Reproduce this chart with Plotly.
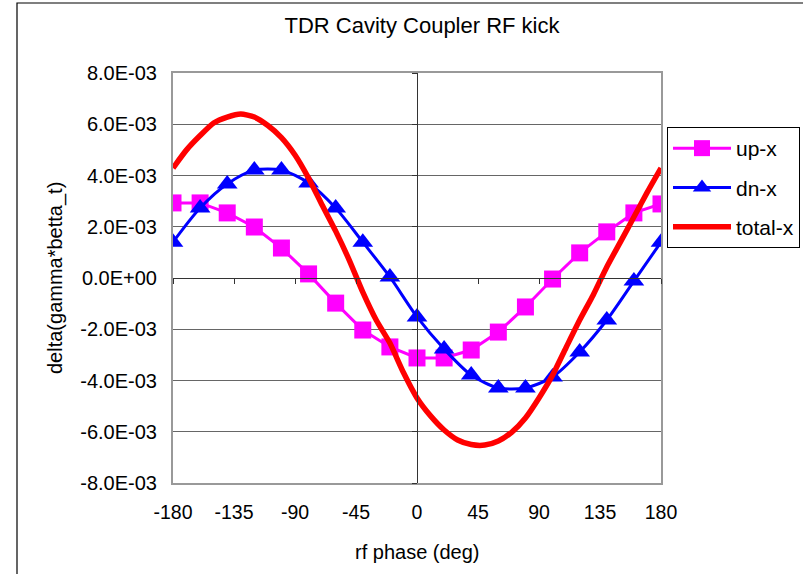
import plotly.graph_objects as go

# ---- data ----
phase = [-180, -160, -140, -120, -100, -80, -60, -40, -20, 0,
         20, 40, 60, 80, 100, 120, 140, 160, 180]
up_x = [2.93e-3, 2.93e-3, 2.54e-3, 1.99e-3, 1.17e-3, 0.16e-3, -0.98e-3, -2.03e-3, -2.69e-3, -3.12e-3,
        -3.12e-3, -2.81e-3, -2.11e-3, -1.13e-3, -0.04e-3, 0.98e-3, 1.80e-3, 2.54e-3, 2.89e-3]
dn_x = [1.40e-3, 2.73e-3, 3.67e-3, 4.21e-3, 4.21e-3, 3.71e-3, 2.73e-3, 1.40e-3, 0.04e-3, -1.52e-3,
        -2.77e-3, -3.79e-3, -4.29e-3, -4.29e-3, -3.86e-3, -2.89e-3, -1.64e-3, -0.12e-3, 1.40e-3]
phase_fine = list(range(-180, 181, 10))
total_x = [4.29e-3, 5.00e-3, 5.56e-3, 6.05e-3, 6.28e-3, 6.40e-3, 6.28e-3, 5.95e-3, 5.48e-3, 4.80e-3,
           3.90e-3, 2.85e-3, 1.83e-3, 0.70e-3, -0.55e-3, -1.65e-3, -2.54e-3, -3.69e-3, -4.68e-3,
           -5.38e-3, -5.93e-3, -6.32e-3, -6.50e-3, -6.52e-3, -6.36e-3, -6.01e-3, -5.46e-3, -4.68e-3,
           -3.79e-3, -2.71e-3, -1.64e-3, -0.66e-3, 0.43e-3, 1.40e-3, 2.38e-3, 3.36e-3, 4.29e-3]

x_ticks = [-180, -135, -90, -45, 0, 45, 90, 135, 180]
y_ticks = [-8e-3, -6e-3, -4e-3, -2e-3, 0.0, 2e-3, 4e-3, 6e-3, 8e-3]
y_tick_text = ["-8.0E-03", "-6.0E-03", "-4.0E-03", "-2.0E-03", "0.0E+00",
               "2.0E-03", "4.0E-03", "6.0E-03", "8.0E-03"]

title_text = "TDR Cavity Coupler RF kick"
x_title = "rf phase (deg)"
y_title = "delta(gamma*betta_t)"

FONT = "Arial, Liberation Sans, sans-serif"

fig = go.Figure()
fig.add_trace(go.Scatter(x=phase, y=up_x, name="up-x", mode="lines+markers", legendgroup="a",
                         line=dict(color="#FF00FF", width=3),
                         marker=dict(symbol="square", size=17, color="#FF00FF")))
fig.add_trace(go.Scatter(x=phase, y=dn_x, name="dn-x", mode="lines+markers", legendgroup="b",
                         line=dict(color="#0000FF", width=3, shape="spline", smoothing=0.8),
                         marker=dict(symbol="triangle-up", size=18, color="#0000FF")))
fig.add_trace(go.Scatter(x=phase_fine, y=total_x, name="total-x", mode="lines", legendgroup="c",
                         line=dict(color="#FF0000", width=5.5, shape="spline", smoothing=0.6)))
# invisible trace to carry the crossing (zero) axes
fig.add_trace(go.Scatter(x=[0], y=[0], xaxis="x2", yaxis="y2", mode="markers",
                         marker=dict(opacity=0), showlegend=False, hoverinfo="skip"))

L, R, T, B = 173, 661, 73, 483
W, H = 803, 574

fig.update_layout(
    width=W, height=H,
    margin=dict(l=L, r=W - R, t=T, b=H - B, pad=0, autoexpand=False),
    paper_bgcolor="white", plot_bgcolor="white",
    font=dict(family=FONT, size=19, color="black"),
    title=dict(text=title_text, x=422 / W, xanchor="center", y=1 - 25 / H, yanchor="middle",
               font=dict(family=FONT, size=22, color="black")),
    xaxis=dict(range=[-180, 180], tickvals=x_ticks, ticktext=[str(v) for v in x_ticks],
               showgrid=False, zeroline=False, showline=True, linecolor="#999999", linewidth=2,
               mirror=True, ticks="", ticklabelstandoff=11,
               tickfont=dict(family=FONT, size=19.5, color="black")),
    yaxis=dict(range=[-8e-3, 8e-3], tickvals=y_ticks, ticktext=y_tick_text,
               showgrid=True, gridcolor="#666666", gridwidth=1,
               zeroline=False, showline=True, linecolor="#999999", linewidth=2,
               mirror=True, ticks="", ticklabelstandoff=10,
               tickfont=dict(family=FONT, size=20, color="black")),
    xaxis2=dict(range=[-180, 180], overlaying="x", anchor="free", position=0.5,
                tickvals=x_ticks, showticklabels=False, ticks="outside", ticklen=5,
                tickcolor="#333333", showline=True, linecolor="#333333", linewidth=1,
                showgrid=False, zeroline=False),
    yaxis2=dict(range=[-8e-3, 8e-3], overlaying="y", anchor="free", position=0.5,
                tickvals=y_ticks, showticklabels=False, ticks="outside", ticklen=5,
                tickcolor="#333333", showline=True, linecolor="#333333", linewidth=1,
                showgrid=False, zeroline=False),
    legend=dict(x=(667 - L) / (R - L), xanchor="left", y=(B - 127) / (B - T), yanchor="top",
                bgcolor="white", bordercolor="black", borderwidth=1, tracegroupgap=9,
                font=dict(family=FONT, size=21, color="black"), itemwidth=58),
    showlegend=True,
    annotations=[
        dict(text=x_title, xref="paper", yref="paper", x=0.5, y=-(552 - B) / (B - T),
             xanchor="center", yanchor="middle", showarrow=False,
             font=dict(family=FONT, size=20, color="black")),
        dict(text=y_title, xref="paper", yref="paper", x=-(L - 55) / (R - L), y=0.5,
             xanchor="center", yanchor="middle", textangle=-90, showarrow=False,
             font=dict(family=FONT, size=20, color="black")),
    ],
    shapes=[
        dict(type="rect", xref="paper", yref="paper",
             x0=-(L - 17) / (R - L), x1=1.5, y0=-0.5, y1=(B - 3) / (B - T),
             line=dict(color="black", width=1.2), fillcolor="rgba(0,0,0,0)", layer="below"),
    ],
)

fig.write_html("out.html")
